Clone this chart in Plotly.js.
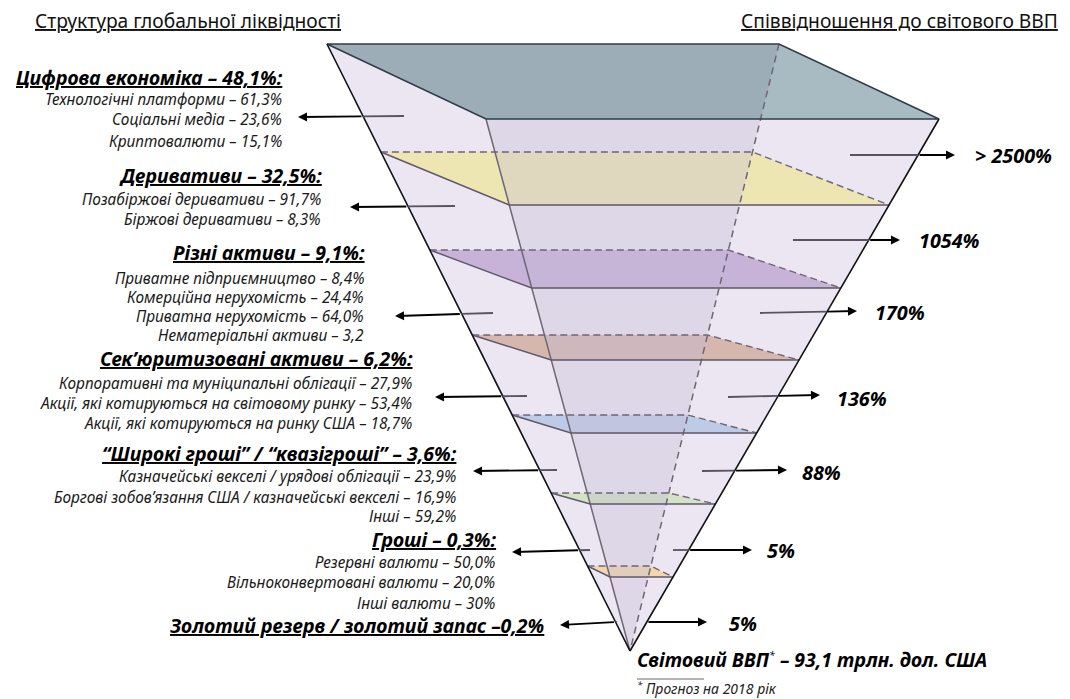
<!DOCTYPE html>
<html><head><meta charset="utf-8">
<script src="https://cdn.plot.ly/plotly-3.0.1.min.js"></script>
<style>html,body{margin:0;padding:0;background:#fff;} #chart{width:1070px;height:699px;}</style>
</head><body><div id="chart"></div>
<script>
// ---------------- data ----------------
const categories = ["Цифрова економіка","Деривативи","Різні активи","Сек’юритизовані активи","“Широкі гроші” / “квазігроші”","Гроші","Золотий резерв / золотий запас"];
const shares = ["48,1%","32,5%","9,1%","6,2%","3,6%","0,3%","0,2%"];
const gdpRatio = ["> 2500%","1054%","170%","136%","88%","5%","5%"];
const subItems = [
  ["Технологічні платформи","Соціальні медіа","Криптовалюти"],
  ["Позабіржові деривативи","Біржові деривативи"],
  ["Приватне підприємництво","Комерційна нерухомість","Приватна нерухомість","Нематеріальні активи"],
  ["Корпоративні та муніципальні облігації","Акції, які котируються на світовому ринку","Акції, які котируються на ринку США"],
  ["Казначейські векселі / урядові облігації","Боргові зобов’язання США / казначейські векселі","Інші"],
  ["Резервні валюти","Вільноконвертовані валюти","Інші валюти"],
  []
];
const subValues = [
  ["61,3%","23,6%","15,1%"],
  ["91,7%","8,3%"],
  ["8,4%","24,4%","64,0%","3,2"],
  ["27,9%","53,4%","18,7%"],
  ["23,9%","16,9%","59,2%"],
  ["50,0%","20,0%","30%"],
  []
];
const leftTitle = "Структура глобальної ліквідності";
const rightTitle = "Співвідношення до світового ВВП";
const worldGDP = "93,1";
const forecastYear = "2018";

// ---------------- geometry / style (layout only) ----------------
const V = {BL:[327,44], BR:[779,44], FR:[939,119], FL:[486,119], A:[630,651]};
const planes = [[152,205],[250,288],[335,360],[415,433],[493,504],[566,577]]; // back y, front y
const planeFill = ['#ede6b3','#c7b3d8','#d5b7ae','#bdcbe7','#d4e2c5','#f2d6ae'];
const leftArrows  = [[404,116,298,117],[455,206,350,207],[493,313,395,316],[527,396,435,397],[557,470,473,471],[590,550,512,552],[617,622,560,625]];
const rightArrows = [[850,155,955,155],[793,240,900,240],[760,313,857,311],[728,397,820,395],[702,471,787,470],[673,550,752,550],[647,622,707,622]];
const leftBlock = [
  {x:284, hy:77,  iy:[99,119,141]},
  {x:323, hy:175, iy:[199,219]},
  {x:366, hy:252, iy:[278,297,316,335]},
  {x:414, hy:358, iy:[383,403,423]},
  {x:458, hy:453, iy:[476,497,516]},
  {x:497, hy:539, iy:[562,582,603]},
  {x:545, hy:625, iy:[]}
];
const rightLabelPos = [[973,155],[917,240],[873,312],[835,398],[800,472],[765,550],[727,623]];

const FONT = "'Noto Sans', 'Open Sans', sans-serif";

function ex(P, y){ return P[0] + (y-P[1])/(V.A[1]-P[1])*(V.A[0]-P[0]); }
function poly(pts, fill){
  return {x: pts.map(p=>p[0]).concat([pts[0][0]]), y: pts.map(p=>p[1]).concat([pts[0][1]]),
    mode:'lines', fill:'toself', fillcolor: fill, line:{width:0}, hoverinfo:'skip', showlegend:false};
}
function line(pts, color, width, dash){
  return {x: pts.map(p=>p[0]), y: pts.map(p=>p[1]), mode:'lines',
    line:{color:color, width:width, dash: dash||'solid'}, hoverinfo:'skip', showlegend:false};
}

const traces = [];
// body of pyramid
traces.push(poly([V.BL, V.BR, V.FR, V.A], '#ece6f2'));
// layer planes
const planePts = planes.map(([yb,yf]) => ({
  bl:[ex(V.BL,yb),yb], br:[ex(V.BR,yb),yb], fr:[ex(V.FR,yf),yf], fl:[ex(V.FL,yf),yf]
}));
planePts.forEach((p,i)=> traces.push(poly([p.bl,p.br,p.fr,p.fl], planeFill[i])));
// inner (see-through) region
const D = [ex(V.BR, V.FL[1]), V.FL[1]];
traces.push(poly([V.FL, D, V.A], 'rgba(199,187,211,0.35)'));
// top face
traces.push(poly([V.BL, V.BR, V.FR, V.FL], '#a8bbc2'));
traces.push(poly([V.BL, V.BR, D, V.FL], '#9cadb8'));
// inner edges
traces.push(line([V.FL, V.A], '#6e6677', 1.5));
traces.push(line([V.BR, V.A], '#6e6677', 1.5, '7px,5px'));
// plane edges
planePts.forEach(p => {
  traces.push(line([p.bl, p.fl, p.fr], '#5f5868', 1.4));
  traces.push(line([p.bl, p.br, p.fr], '#6e6677', 1.4, '7px,4px'));
});
// top face outline
traces.push(line([V.BL, V.BR, V.FR, V.FL, V.BL], '#2e3c45', 1.5));
// outer edges
traces.push(line([V.BL, V.A], '#111', 1.6));
traces.push(line([V.FR, V.A], '#111', 1.6));
// footnote separator rule
traces.push(line([[637,679],[704,679]], '#444', 0.8));

// arrows
const annotations = [];
function arrow(a, edgeP){
  const [tx,ty,hx,hy] = a;
  const xc = ex(edgeP, ty);
  const f = (xc - tx)/(hx - tx);
  const yc = ty + f*(hy-ty);
  let sx = xc, sy = yc;
  if (f > 0 && f < 1) {
    traces.push(line([[tx,ty],[xc,yc]], '#5a5262', 1.8));
  } else { sx = tx; sy = ty; }
  annotations.push({x:hx, y:hy, ax:sx, ay:sy, xref:'x', yref:'y', axref:'x', ayref:'y',
    text:'', showarrow:true, arrowhead:2, arrowsize:0.95, arrowwidth:1.9, arrowcolor:'#000', standoff:0, startstandoff:0});
}
leftArrows.forEach(a => arrow(a, V.BL));
rightArrows.forEach(a => arrow(a, V.FR));

// titles
annotations.push({x:33, y:20, xref:'x', yref:'y', xanchor:'left', yanchor:'middle', showarrow:false,
  text:'<u>'+leftTitle+'</u>', font:{family:FONT, size:19.2, color:'#111'}});
annotations.push({x:1060, y:20, xref:'x', yref:'y', xanchor:'right', yanchor:'middle', showarrow:false,
  text:'<u>'+rightTitle+'</u>', font:{family:FONT, size:19.2, color:'#111'}});

// left block
categories.forEach((c,i) => {
  const b = leftBlock[i];
  const last = (i === categories.length-1);
  const head = last ? (c + ' –' + shares[i]) : (c + ' – ' + shares[i] + ':');
  annotations.push({x:b.x, y:b.hy, xref:'x', yref:'y', xanchor:'right', yanchor:'middle', showarrow:false, borderpad:0,
    text:'<u>'+head+'</u>', font:{family:FONT, size:19.5, color:'#000', weight:'bold', style:'italic'}});
  subItems[i].forEach((s,j) => {
    annotations.push({x:b.x-1, y:b.iy[j], xref:'x', yref:'y', xanchor:'right', yanchor:'middle', showarrow:false, borderpad:0,
      text: s + ' – ' + subValues[i][j], font:{family:FONT, size:15.4, color:'#1a1a1a', style:'italic'}});
  });
});
// right labels
gdpRatio.forEach((r,i) => {
  annotations.push({x:rightLabelPos[i][0], y:rightLabelPos[i][1], xref:'x', yref:'y', xanchor:'left', yanchor:'middle', showarrow:false,
    text:r, font:{family:FONT, size:19.8, color:'#000', weight:'bold', style:'italic'}});
});
// bottom
annotations.push({x:636, y:659, xref:'x', yref:'y', xanchor:'left', yanchor:'middle', showarrow:false, borderpad:0,
  text:'Світовий ВВП<sup><span style="font-weight:normal;font-size:11px">*</span></sup> – ' + worldGDP + ' трлн. дол. США', font:{family:FONT, size:19.4, color:'#000', weight:'bold', style:'italic'}});
annotations.push({x:636, y:699, xref:'x', yref:'y', xanchor:'left', yanchor:'bottom', showarrow:false, borderpad:0,
  text:'<sup>*</sup> Прогноз на ' + forecastYear + ' рік', font:{family:FONT, size:14, color:'#222', style:'italic'}});

const layout = {
  width:1070, height:699, margin:{l:0,r:0,t:0,b:0},
  paper_bgcolor:'#fff', plot_bgcolor:'#fff', showlegend:false, hovermode:false,
  xaxis:{range:[0,1070], visible:false, fixedrange:true},
  yaxis:{range:[699,0], visible:false, fixedrange:true},
  annotations: annotations
};
Plotly.newPlot('chart', traces, layout, {displayModeBar:false, staticPlot:true});
</script>
</body></html>
